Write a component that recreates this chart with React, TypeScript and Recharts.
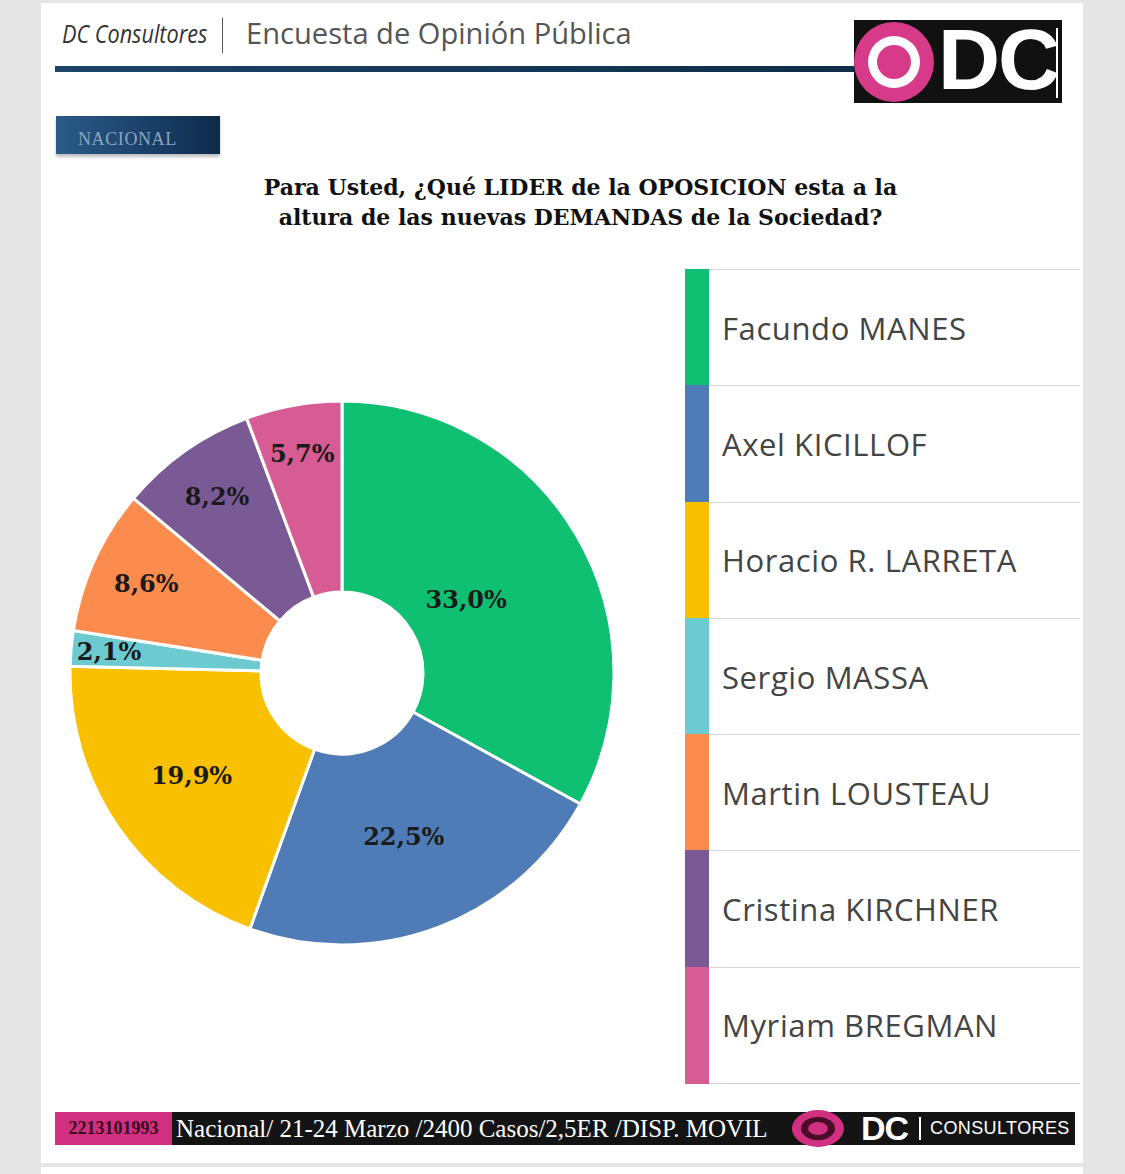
import React from "react";
import { PieChart, Pie, Cell, Legend } from "recharts";

const candidates = [
  "Facundo MANES",
  "Axel KICILLOF",
  "Horacio R. LARRETA",
  "Sergio MASSA",
  "Martin LOUSTEAU",
  "Cristina KIRCHNER",
  "Myriam BREGMAN",
];
const shares = [33.0, 22.5, 19.9, 2.1, 8.6, 8.2, 5.7];
const colors = ["#0fbf72", "#4f7bb6", "#f9c000", "#6ccbd0", "#fc8b4e", "#7a5a95", "#d65c93"];

const title = [
  "Para Usted, ¿Qué LIDER de la OPOSICION esta a la",
  "altura de las nuevas DEMANDAS de la Sociedad?",
];

const data = candidates.map((name, i) => ({ name, value: shares[i], fill: colors[i] }));

const RADIAN = Math.PI / 180;
const fmt = (v: number) => v.toFixed(1).replace(".", ",") + "%";

const renderLabel = (props: any) => {
  const { cx, cy, midAngle, value } = props;
  // small slices sit further out, as in the original
  const r = 240 - 2.9 * value;
  const x = cx + r * Math.cos(-midAngle * RADIAN);
  const y = cy + r * Math.sin(-midAngle * RADIAN);
  return (
    <text
      x={x}
      y={y}
      textAnchor="middle"
      dominantBaseline="central"
      fill="#1a1a1a"
      style={{ fontFamily: "'DejaVu Serif', serif", fontWeight: 700, fontSize: 24 }}
    >
      {fmt(value)}
    </text>
  );
};

const renderLegend = (props: any) => {
  const payload = [...(props.payload || [])].sort(
    (a: any, b: any) => candidates.indexOf(a.value) - candidates.indexOf(b.value)
  );
  return (
    <div style={{ width: 395, borderTop: "1px solid #d4d4d4" }}>
      {payload.map((entry: any) => (
        <div
          key={entry.value}
          style={{
            display: "flex",
            alignItems: "center",
            height: 115.3,
            borderBottom: "1px solid #d4d4d4",
            position: "relative",
          }}
        >
          <div
            style={{
              position: "absolute",
              left: 0,
              top: -1,
              bottom: -1,
              width: 24,
              background: colors[candidates.indexOf(entry.value)] ?? entry.color,
            }}
          />
          <span
            style={{
              marginLeft: 37,
              fontFamily: "'Open Sans', 'Noto Sans', sans-serif",
              fontSize: 31,
              color: "#444",
              letterSpacing: 0.6,
              whiteSpace: "nowrap",
            }}
          >
            {entry.value}
          </span>
        </div>
      ))}
    </div>
  );
};

const abs = (s: React.CSSProperties): React.CSSProperties => ({ position: "absolute", ...s });

export default function App() {
  return (
    <div style={abs({ left: 0, top: 0, width: 1125, height: 1174, background: "#e5e5e5", overflow: "hidden" })}>
      {/* card */}
      <div style={abs({ left: 41, top: 3, width: 1042, height: 1160, background: "#fff" })} />
      <div style={abs({ left: 41, top: 1167, width: 1042, height: 10, background: "#fff" })} />

      {/* header */}
      <div
        style={abs({
          left: 62,
          top: 16,
          fontFamily: "'Open Sans', sans-serif",
          fontStyle: "italic",
          fontSize: 25,
          color: "#333",
          transform: "scaleX(0.865)",
          transformOrigin: "left",
          whiteSpace: "nowrap",
        })}
      >
        DC Consultores
      </div>
      <div style={abs({ left: 222, top: 18, width: 1, height: 35, background: "#555" })} />
      <div
        style={abs({
          left: 246,
          top: 12,
          fontFamily: "'Open Sans', sans-serif",
          fontSize: 30,
          color: "#555",
          transform: "scaleX(0.97)",
          transformOrigin: "left",
          whiteSpace: "nowrap",
        })}
      >
        Encuesta de Opinión Pública
      </div>
      <div
        style={abs({
          left: 55,
          top: 66,
          width: 805,
          height: 6,
          background: "linear-gradient(90deg, #1d4468, #0f2c4a)",
        })}
      />

      {/* logo */}
      <div style={abs({ left: 854, top: 20, width: 208, height: 83, background: "#111" })}>
        <div style={abs({ left: 0, top: 2, width: 80, height: 80, borderRadius: "50%", background: "#d83a8a" })} />
        <div style={abs({ left: 14, top: 16, width: 52, height: 52, borderRadius: "50%", background: "#fff" })} />
        <div style={abs({ left: 23, top: 25, width: 34, height: 34, borderRadius: "50%", background: "#d83a8a" })} />
        <div
          style={abs({
            left: 84,
            top: -10,
            fontFamily: "'Liberation Sans', Arial, sans-serif",
            fontWeight: 700,
            fontSize: 86,
            color: "#fff",
            letterSpacing: -2,
          })}
        >
          DC
        </div>
        <div style={abs({ left: 202, top: 8, width: 2, height: 70, background: "#fff" })} />
      </div>

      {/* badge */}
      <div
        style={abs({
          left: 56,
          top: 116,
          width: 164,
          height: 38,
          background: "linear-gradient(90deg, #2b5b88, #163960 70%, #0f2a4a)",
          boxShadow: "0 3px 3px rgba(0,0,0,0.25)",
          color: "#8ea5c2",
          fontFamily: "'Liberation Serif', serif",
          fontSize: 18,
          letterSpacing: 0.6,
          lineHeight: "38px",
          paddingLeft: 22,
          paddingTop: 4,
          boxSizing: "border-box",
        })}
      >
        NACIONAL
      </div>

      {/* title */}
      {title.map((t, i) => (
        <div
          key={t}
          style={abs({
            left: 0,
            width: 1161,
            top: 174 + i * 30,
            textAlign: "center",
            fontFamily: "'DejaVu Serif', serif",
            fontWeight: 700,
            fontSize: 22,
            color: "#111",
            whiteSpace: "nowrap",
          })}
        >
          {t}
        </div>
      ))}

      {/* chart */}
      <div style={abs({ left: 40, top: 250 })}>
        <PieChart width={1043} height={845} margin={{ top: 0, right: 0, bottom: 0, left: 0 }}>
          <Pie
            data={data}
            dataKey="value"
            nameKey="name"
            cx={302}
            cy={423}
            innerRadius={81}
            outerRadius={272}
            startAngle={90}
            endAngle={-270}
            stroke="#fff"
            strokeWidth={3}
            label={renderLabel}
            labelLine={false}
            isAnimationActive={false}
          >
            {data.map((d) => (
              <Cell key={d.name} fill={d.fill} />
            ))}
          </Pie>
          <Legend
            layout="vertical"
            align="right"
            verticalAlign="top"
            content={renderLegend}
            wrapperStyle={{ left: 645, top: 19, width: 395 }}
          />
        </PieChart>
      </div>

      {/* footer */}
      <div style={abs({ left: 55, top: 1112, width: 1020, height: 33, background: "#141414" })}>
        <div
          style={abs({
            left: 0,
            top: 0,
            width: 117,
            height: 33,
            background: "#d0307f",
            color: "#3a0a20",
            fontFamily: "'Liberation Serif', serif",
            fontWeight: 700,
            fontSize: 18,
            lineHeight: "33px",
            textAlign: "center",
            whiteSpace: "nowrap",
          })}
        >
          2213101993
        </div>
        <div
          style={abs({
            left: 121,
            top: 0,
            color: "#fff",
            fontFamily: "'Liberation Serif', serif",
            fontSize: 25,
            lineHeight: "33px",
            whiteSpace: "nowrap",
          })}
        >
          Nacional/ 21-24 Marzo /2400 Casos/2,5ER /DISP. MOVIL
        </div>
        <div style={abs({ left: 737, top: -2, width: 52, height: 37, borderRadius: "50%", background: "#d0307f" })} />
        <div style={abs({ left: 746, top: 5, width: 34, height: 23, borderRadius: "50%", background: "#4a0c28" })} />
        <div style={abs({ left: 753, top: 10, width: 20, height: 13, borderRadius: "50%", background: "#d0307f" })} />
        <div
          style={abs({
            left: 806,
            top: 0,
            color: "#fff",
            fontFamily: "'Liberation Sans', Arial, sans-serif",
            fontWeight: 700,
            fontSize: 34,
            lineHeight: "33px",
            letterSpacing: -1,
          })}
        >
          DC
        </div>
        <div style={abs({ left: 864, top: 5, width: 2, height: 23, background: "#fff" })} />
        <div
          style={abs({
            left: 875,
            top: 0,
            color: "#fff",
            fontFamily: "'Liberation Sans', Arial, sans-serif",
            fontSize: 18,
            lineHeight: "33px",
            letterSpacing: 0.4,
            whiteSpace: "nowrap",
          })}
        >
          CONSULTORES
        </div>
      </div>
    </div>
  );
}
